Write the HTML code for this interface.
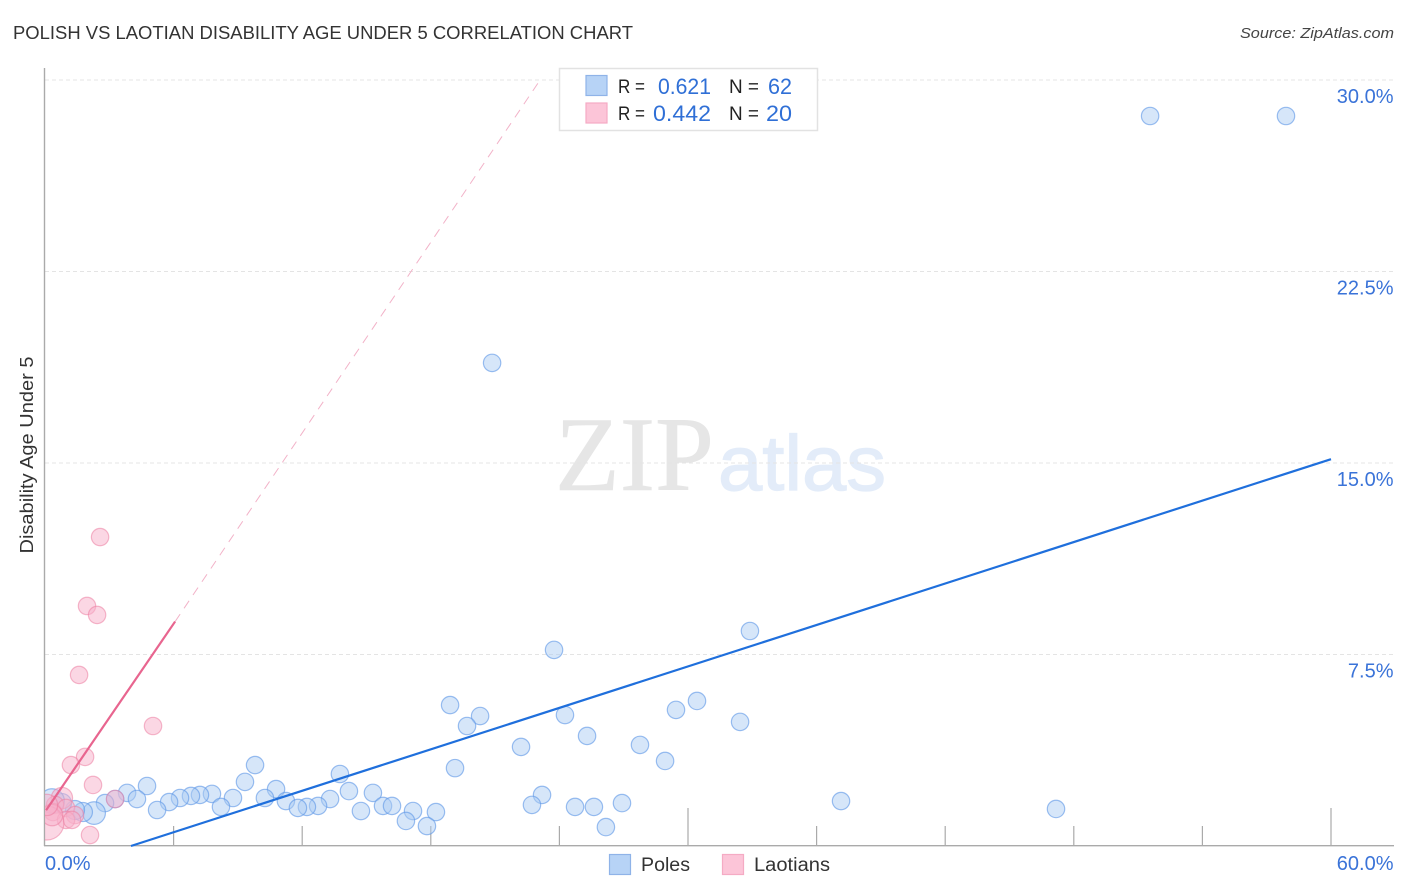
<!DOCTYPE html>
<html lang="en">
<head>
<meta charset="utf-8">
<title>Polish vs Laotian Disability Age Under 5 Correlation Chart</title>
<style>
html,body{margin:0;padding:0;background:#fff;}
svg{display:block;font-family:"Liberation Sans",sans-serif;}
</style>
</head>
<body>
<svg id="chart" xmlns="http://www.w3.org/2000/svg" width="1406" height="892" viewBox="0 0 1406 892">
  <defs><clipPath id="plot-clip"><rect x="45" y="68" width="1300" height="778"/></clipPath></defs>
  <rect x="0" y="0" width="1406" height="892" fill="#fff"/>
  <text x="13" y="39" font-size="18" fill="#333" textLength="620" lengthAdjust="spacingAndGlyphs">POLISH VS LAOTIAN DISABILITY AGE UNDER 5 CORRELATION CHART</text>
  <text x="1394" y="38" font-size="15" font-style="italic" fill="#444" text-anchor="end" textLength="154" lengthAdjust="spacingAndGlyphs">Source: ZipAtlas.com</text>
  <g>
    <text x="555" y="490" font-family="'Liberation Serif',serif" font-size="106" fill="#e6e6e6" stroke="#e6e6e6" stroke-width="0.6" textLength="159" lengthAdjust="spacingAndGlyphs">ZIP</text>
    <text x="718" y="490" font-size="78" fill="#e3ecf9" stroke="#e3ecf9" stroke-width="1.2" textLength="168" lengthAdjust="spacingAndGlyphs">atlas</text>
  </g>
  <g id="grid"></g>
  <g id="axes"></g>
  <g id="points" clip-path="url(#plot-clip)"></g>
  <g id="trends"></g>
  <text transform="translate(33,455) rotate(-90)" font-size="18" fill="#333" text-anchor="middle" textLength="197" lengthAdjust="spacingAndGlyphs">Disability Age Under 5</text>
  <g>
    <rect x="559.5" y="68.5" width="258" height="62" fill="#fff" stroke="#e2e2e2" stroke-width="1.5"/>
    <rect x="586" y="75.5" width="21" height="20" fill="#b7d3f6" stroke="#8fb3e8" stroke-width="1.2"/>
    <rect x="586" y="103" width="21" height="20" fill="#fcc5d8" stroke="#f5abc4" stroke-width="1.2"/>
    <text x="618" y="93" font-size="19" fill="#222" textLength="27" lengthAdjust="spacingAndGlyphs">R =</text>
    <text x="658" y="94" font-size="22" fill="#2f6fd6" textLength="53" lengthAdjust="spacingAndGlyphs">0.621</text>
    <text x="729" y="93" font-size="19" fill="#222" textLength="30" lengthAdjust="spacingAndGlyphs">N =</text>
    <text x="768" y="94" font-size="22" fill="#2f6fd6" textLength="24" lengthAdjust="spacingAndGlyphs">62</text>
    <text x="618" y="120" font-size="19" fill="#222" textLength="27" lengthAdjust="spacingAndGlyphs">R =</text>
    <text x="653" y="121" font-size="22" fill="#2f6fd6" textLength="58" lengthAdjust="spacingAndGlyphs">0.442</text>
    <text x="729" y="120" font-size="19" fill="#222" textLength="30" lengthAdjust="spacingAndGlyphs">N =</text>
    <text x="766" y="121" font-size="22" fill="#2f6fd6" textLength="26" lengthAdjust="spacingAndGlyphs">20</text>
  </g>
  <g>
    <rect x="609.5" y="854.5" width="21" height="20" fill="#b7d3f6" stroke="#8fb3e8" stroke-width="1.2"/>
    <text x="641" y="871" font-size="19" fill="#333" textLength="49" lengthAdjust="spacingAndGlyphs">Poles</text>
    <rect x="722.5" y="854.5" width="21" height="20" fill="#fcc5d8" stroke="#f5abc4" stroke-width="1.2"/>
    <text x="754" y="871" font-size="19" fill="#333" textLength="76" lengthAdjust="spacingAndGlyphs">Laotians</text>
  </g>
</svg>
<script>
var polesX = [51.56,57.90,20.86,32.89,23.75,30.42,29.44,18.90,20.30,24.26,19.69,32.43,25.29,27.76,22.21,28.93,19.13,9.80,13.76,9.33,10.78,4.76,3.83,7.79,7.23,6.81,6.30,4.29,3.27,2.80,8.77,10.26,11.24,13.30,14.18,15.30,23.19,37.14,47.17,26.92,25.61,24.73,22.72,15.77,16.19,12.74,12.22,11.80,14.74,8.21,5.79,5.23,17.17,18.24,16.84,17.82,26.17,2.29,1.77,1.40,0.79,0.33];
var polesY = [28.59,28.59,18.92,8.42,7.68,5.68,5.33,5.52,5.09,5.13,4.70,4.86,4.31,3.96,3.88,3.33,3.05,3.17,2.82,2.51,2.23,2.35,2.08,2.04,2.00,1.96,1.88,1.84,1.84,1.68,1.88,1.88,1.76,1.84,2.15,2.08,2.00,1.76,1.45,1.68,1.53,1.53,1.61,1.57,1.57,1.57,1.53,1.49,1.37,1.53,1.72,1.41,1.37,1.33,0.98,0.78,0.74,1.29,1.33,1.41,1.68,1.76];
var polesWeight = [1,1,1,1,1,1,1,1,1,1,1,1,1,1,1,1,1,1,1,1,1,1,1,1,1,1,1,1,1,1,1,1,1,1,1,1,1,1,1,1,1,1,1,1,1,1,1,1,1,1,1,1,1,1,1,1,1,1.7,1.2,1.2,1.2,2];
var laotiansX = [2.57,1.96,2.43,1.59,5.04,1.87,1.21,2.24,3.27,2.10,0.79,0.47,0.37,0.98,1.40,0.98,1.26,0.09,0.33,0.09];
var laotiansY = [12.10,9.40,9.05,6.70,4.70,3.49,3.17,2.39,1.84,0.43,1.88,1.61,1.33,1.49,1.21,1.02,1.02,0.90,1.21,1.61];
var laotiansWeight = [1,1,1,1,1,1,1,1,1,1,1.5,1,1,1,1,1,1,3.8,1.5,1.5];
var polesTrendX = [4.01,60];
var polesTrendY = [0,15.15];
var laotiansTrendSolidX = [0.05,6.07];
var laotiansTrendSolidY = [1.40,8.79];
var laotiansTrendDashedX = [6.07,23.1];
var laotiansTrendDashedY = [8.79,30];
var yTickValues = [30,22.5,15,7.5];
var yTickLabels = ["30.0%","22.5%","15.0%","7.5%"];
var xTickValues = [6,12,18,24,30,36,42,48,54,60];
var xLongTicks = [30,60];
var xEndLabels = ["0.0%","60.0%"];

var NS = "http://www.w3.org/2000/svg";
function xScale(v){ return 45 + v * (1286 / 60); }
function yScale(v){ return 846 - v * (766 / 30); }
function make(parent, tag, attrs){
  var el = document.createElementNS(NS, tag);
  for (var k in attrs) el.setAttribute(k, attrs[k]);
  parent.appendChild(el);
  return el;
}
var gridG = document.getElementById("grid");
var axesG = document.getElementById("axes");
var pointsG = document.getElementById("points");
var trendsG = document.getElementById("trends");

yTickValues.forEach(function(v, i){
  var line = make(gridG, "line", {x1:45, x2:1394, y1:yScale(v), y2:yScale(v), stroke:"#e4e4e4", "stroke-width":1, "stroke-dasharray":"4 3"});
  
  
  var t = make(axesG, "text", {x:1393.5, y:yScale(v) + 23, "font-size":20, fill:"#3a73d8", "text-anchor":"end"});
  t.textContent = yTickLabels[i];
  
  
});

var yAxis = make(axesG, "line", {x1:44.5, x2:44.5, y1:68, y2:846, stroke:"#aaa", "stroke-width":1.4});


var xAxis = make(axesG, "line", {x1:44, x2:1394, y1:845.7, y2:845.7, stroke:"#aaa", "stroke-width":1.4});



xTickValues.forEach(function(v){
  var top = xLongTicks.indexOf(v) >= 0 ? 808 : 826;
  var tick = make(axesG, "line", {x1:xScale(v), x2:xScale(v), y1:top, y2:846, stroke:"#aaa", "stroke-width":1.2});
  
  
});

var xLabelLeft = make(axesG, "text", {x:45, y:870, "font-size":20, fill:"#3a73d8"});
xLabelLeft.textContent = xEndLabels[0];


var xLabelRight = make(axesG, "text", {x:1393.5, y:870, "font-size":20, fill:"#3a73d8", "text-anchor":"end"});
xLabelRight.textContent = xEndLabels[1];



polesX.forEach(function(v, i){
  var c = make(pointsG, "circle", {cx:xScale(v), cy:yScale(polesY[i]), r:8.7 * Math.sqrt(polesWeight[i]), fill:"#a9caf3", "fill-opacity":0.48, stroke:"#5f97e6", "stroke-opacity":0.62, "stroke-width":1.2});
  
  
});
laotiansX.forEach(function(v, i){
  var c = make(pointsG, "circle", {cx:xScale(v), cy:yScale(laotiansY[i]), r:8.7 * Math.sqrt(laotiansWeight[i]), fill:"#f7b0c9", "fill-opacity":0.5, stroke:"#ec7fa3", "stroke-opacity":0.55, "stroke-width":1.2});
  
  
});

var dashed = make(trendsG, "line", {x1:xScale(laotiansTrendDashedX[0]), y1:yScale(laotiansTrendDashedY[0]), x2:xScale(laotiansTrendDashedX[1]), y2:yScale(laotiansTrendDashedY[1]), stroke:"#f2b2c8", "stroke-width":1, "stroke-dasharray":"9 7"});


var solid = make(trendsG, "line", {x1:xScale(laotiansTrendSolidX[0]), y1:yScale(laotiansTrendSolidY[0]), x2:xScale(laotiansTrendSolidX[1]), y2:yScale(laotiansTrendSolidY[1]), stroke:"#e8658f", "stroke-width":2.2});


var blue = make(trendsG, "line", {x1:xScale(polesTrendX[0]), y1:yScale(polesTrendY[0]), x2:xScale(polesTrendX[1]), y2:yScale(polesTrendY[1]), stroke:"#1f6fdc", "stroke-width":2.2});


</script>
</body>
</html>
